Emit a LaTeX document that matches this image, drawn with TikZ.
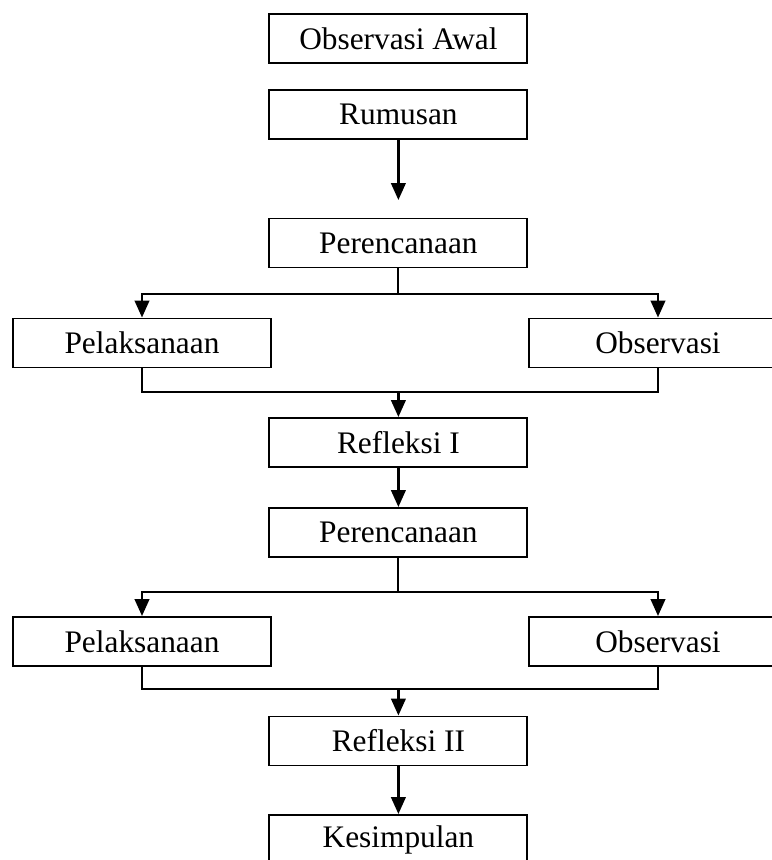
\documentclass[tikz,border=0pt]{standalone}
\usepackage{fontspec}
\setmainfont{Liberation Serif}
\usetikzlibrary{arrows.meta,positioning}
\tikzset{stepbox/.style={draw,line width=1.4pt,minimum width=6.45cm,minimum height=1.225cm,inner sep=0pt,font=\fontsize{22.3}{26}\selectfont}}
\tikzset{arr/.style={line width=1.7pt,-{Triangle[length=0.42cm,width=0.36cm]}}}

\begin{document}
\begin{tikzpicture}
\useasboundingbox (0,0) rectangle (19.275,-21.5);
\tikzset{link/.style={line width=1.4pt}}
\node[stepbox] (awal) at (9.96,-0.9625) {Observasi Awal};
\node[stepbox] (rumus) at (9.96,-2.8625) {Rumusan};
\node[stepbox] (rencana1) at (9.96,-6.075) {Perencanaan};
\node[stepbox] (laksana1) at (3.55,-8.575) {Pelaksanaan};
\node[stepbox] (obs1) at (16.45,-8.575) {Observasi};
\node[stepbox] (refl1) at (9.96,-11.0625) {Refleksi I};
\node[stepbox] (rencana2) at (9.96,-13.3125) {Perencanaan};
\node[stepbox] (laksana2) at (3.55,-16.0375) {Pelaksanaan};
\node[stepbox] (obs2) at (16.45,-16.0375) {Observasi};
\node[stepbox] (refl2) at (9.96,-18.525) {Refleksi II};
\node[stepbox] (simpul) at (9.96,-20.9875) {Kesimpulan};
\coordinate (rumusend) at (9.96,-5.0);
\coordinate (split1) at (9.96,-7.35);
\coordinate (join1) at (9.96,-9.8);
\coordinate (split2) at (9.96,-14.8);
\coordinate (join2) at (9.96,-17.225);
% cycle I
\draw[arr] (rumus) -- (rumusend);
\draw[link] (rencana1) -- (split1);
\draw[arr] (split1) -| (laksana1);
\draw[arr] (split1) -| (obs1);
\draw[link] (laksana1) |- (join1);
\draw[link] (obs1) |- (join1);
\draw[arr] (join1) -- (refl1);
\draw[arr] (refl1) -- (rencana2);
% cycle II
\draw[link] (rencana2) -- (split2);
\draw[arr] (split2) -| (laksana2);
\draw[arr] (split2) -| (obs2);
\draw[link] (laksana2) |- (join2);
\draw[link] (obs2) |- (join2);
\draw[arr] (join2) -- (refl2);
\draw[arr] (refl2) -- (simpul);
\end{tikzpicture}
\end{document}
